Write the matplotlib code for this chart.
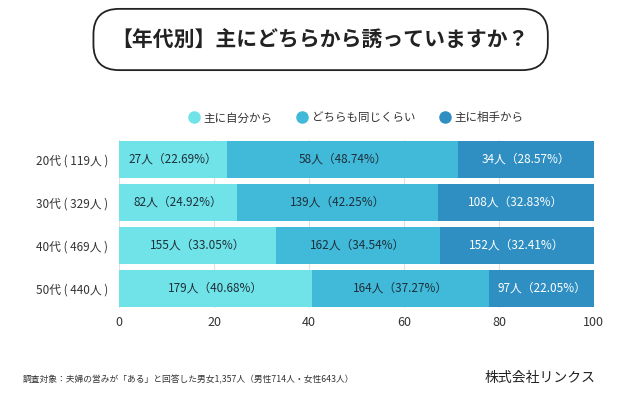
import matplotlib.pyplot as plt
from matplotlib.patches import FancyBboxPatch
from matplotlib.lines import Line2D

plt.rcParams['font.family'] = ['Noto Sans CJK JP', 'DejaVu Sans']

# data
ages = ['20代 ( 119人 )', '30代 ( 329人 )', '40代 ( 469人 )', '50代 ( 440人 )']
series = ['主に自分から', 'どちらも同じくらい', '主に相手から']
counts = [[27, 82, 155, 179],
          [58, 139, 162, 164],
          [34, 108, 152, 97]]
pcts = [[22.69, 24.92, 33.05, 40.68],
        [48.74, 42.25, 34.54, 37.27],
        [28.57, 32.83, 32.41, 22.05]]
colors = ['#6fe3e8', '#41b9d8', '#2f8fc2']
text_colors = ['#1f2f3a', '#1f2f3a', 'white']

fig = plt.figure(figsize=(6.4, 4.03), dpi=100)

# title box
box = FancyBboxPatch((0.146, 0.826), 0.71, 0.152,
                     boxstyle='round,pad=0,rounding_size=0.04',
                     transform=fig.transFigure, facecolor='white',
                     edgecolor='#222222', linewidth=1.3,
                     mutation_aspect=640 / 403)
fig.patches.append(box)
fig.text(0.5, 0.9, '【年代別】主にどちらから誘っていますか？',
         ha='center', va='center', fontsize=15, fontweight='bold', color='#222222')

ax = fig.add_axes([0.186, 0.236, 0.742, 0.417])
y = range(len(ages))
left = [0] * len(ages)
for i, name in enumerate(series):
    ax.barh(y, pcts[i], left=left, height=0.86, color=colors[i],
            label=name, zorder=2)
    for j in y:
        ax.text(left[j] + pcts[i][j] / 2, j,
                f'{counts[i][j]}人（{pcts[i][j]:.2f}%）',
                ha='center', va='center', fontsize=8.5,
                color=text_colors[i], zorder=3)
    left = [a + b for a, b in zip(left, pcts[i])]

ax.set_xlim(0, 100)
ax.set_ylim(3.46, -0.46)
ax.set_xticks([0, 20, 40, 60, 80, 100])
ax.set_yticks(list(y))
ax.set_yticklabels(ages)
ax.tick_params(length=0, labelsize=8.5, colors='#333333')
ax.tick_params(axis='y', pad=8)
ax.tick_params(axis='x', pad=6, labelsize=9)
ax.grid(axis='x', color='#e0e0e0', linewidth=0.8, zorder=0)
for s in ax.spines.values():
    s.set_visible(False)

# circle markers for the legend
handles = [Line2D([], [], marker='o', linestyle='', markersize=8,
                  markerfacecolor=c, markeredgecolor=c) for c in colors]
ax.legend(handles, series, loc='lower center', bbox_to_anchor=(0.5, 1.03),
          ncol=3, frameon=False, fontsize=8.3, handlelength=0.8,
          columnspacing=2.2, handletextpad=0.4, labelcolor='#333333')

fig.text(0.035, 0.058, '調査対象：夫婦の営みが「ある」と回答した男女1,357人（男性714人・女性643人）',
         ha='left', va='center', fontsize=6.3, color='#333333')
fig.text(0.93, 0.063, '株式会社リンクス', ha='right', va='center',
         fontsize=10, color='#222222')

fig.savefig('out.png', dpi=100, facecolor='white')
